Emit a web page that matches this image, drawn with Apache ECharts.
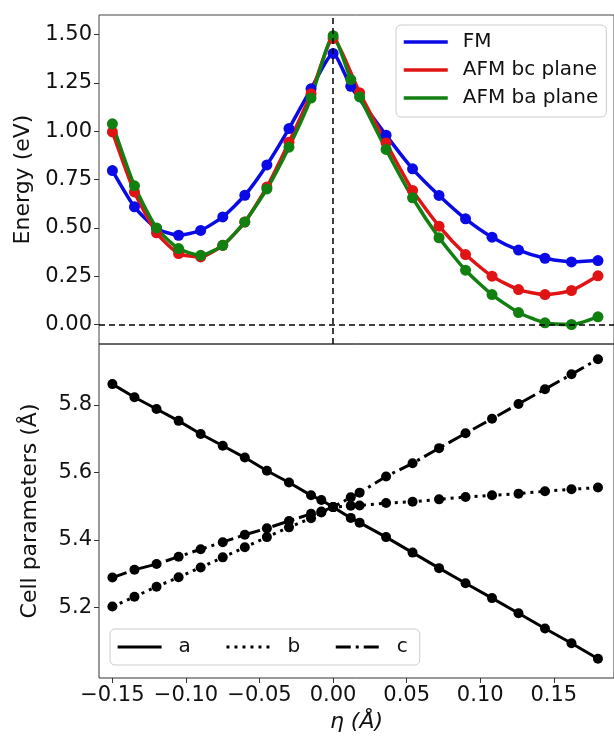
<!DOCTYPE html>
<html>
<head>
<meta charset="utf-8">
<script src="https://cdn.jsdelivr.net/npm/echarts@6/dist/echarts.min.js"></script>
<style>
  html, body { margin: 0; padding: 0; background: #fff; }
  #chart { width: 614px; height: 736px; }
</style>
</head>
<body>
<div id="chart"></div>
<script>
// eta values (Å) for the energy curves
var etaEnergy = [-0.15, -0.135, -0.12, -0.105, -0.09, -0.075, -0.06, -0.045, -0.03, -0.015, 0,
  0.012, 0.018, 0.036, 0.054, 0.072, 0.09, 0.108, 0.126, 0.144, 0.162, 0.18];
var fmEnergy = [0.797, 0.609, 0.497, 0.462, 0.487, 0.557, 0.669, 0.826, 1.014, 1.220, 1.403,
  1.233, null, 0.980, 0.806, 0.668, 0.547, 0.452, 0.385, 0.343, 0.324, 0.331];
var bcEnergy = [0.997, 0.686, 0.475, 0.367, 0.350, 0.410, 0.530, 0.712, 0.944, 1.195, 1.480,
  null, 1.200, 0.940, 0.694, 0.509, 0.362, 0.250, 0.181, 0.155, 0.176, 0.252];
var baEnergy = [1.039, 0.718, 0.500, 0.393, 0.358, 0.410, 0.531, 0.702, 0.918, 1.172, 1.495,
  1.268, 1.178, 0.906, 0.656, 0.449, 0.281, 0.155, 0.062, 0.009, 0.000, 0.040];

// eta values for the cell parameters
var etaCell = [-0.15, -0.135, -0.12, -0.105, -0.09, -0.075, -0.06, -0.045, -0.03, -0.015, -0.008, 0,
  0.012, 0.018, 0.036, 0.054, 0.072, 0.09, 0.108, 0.126, 0.144, 0.162, 0.18];
var cellA = [5.862, 5.823, 5.788, 5.753, 5.714, 5.679, 5.644, 5.605, 5.570, 5.532, 5.518, 5.497,
  5.465, 5.451, 5.408, 5.362, 5.316, 5.271, 5.227, 5.182, 5.137, 5.093, 5.047];
var cellB = [5.202, 5.231, 5.261, 5.289, 5.318, 5.348, 5.378, 5.408, 5.437, 5.464, 5.481, 5.497,
  5.501, 5.502, 5.509, 5.513, 5.520, 5.527, 5.532, 5.537, 5.544, 5.550, 5.555];
var cellC = [5.288, 5.311, 5.328, 5.350, 5.372, 5.393, 5.415, 5.434, 5.456, 5.477, 5.484, 5.497,
  5.526, 5.540, 5.588, 5.627, 5.672, 5.716, 5.759, 5.803, 5.847, 5.891, 5.936];

var xTicks = [-0.15, -0.10, -0.05, 0, 0.05, 0.10, 0.15];
var energyTicks = [0, 0.25, 0.5, 0.75, 1.0, 1.25, 1.5];
var cellTicks = [5.2, 5.4, 5.6, 5.8];

function pairs(xs, ys) {
  var out = [];
  for (var i = 0; i < xs.length; i++) {
    if (ys[i] !== null) out.push([xs[i], ys[i]]);
  }
  return out;
}
function fmtX(v) {
  return v < -1e-9 ? '\u2212' + (-v).toFixed(2) : Math.abs(v).toFixed(2);
}

var tickFont = { fontFamily: 'DejaVu Sans', fontSize: 21, color: '#111' };
var nameFont = { fontFamily: 'DejaVu Sans', fontSize: 22, color: '#111' };

var chart = echarts.init(document.getElementById('chart'));
var option = {
  animation: false,
  backgroundColor: '#fff',
  grid: [
    { left: 99, top: 15, right: -3, height: 329, show: true, borderColor: '#444', borderWidth: 1 },
    { left: 99, top: 344, right: -3, height: 334, show: true, borderColor: '#333', borderWidth: 1 }
  ],
  xAxis: [
    {
      type: 'value', gridIndex: 0, min: -0.1591, max: 0.1909,
      axisLine: { show: false, onZero: false }, axisTick: { show: false }, axisLabel: { show: false },
      splitLine: { show: false }
    },
    {
      type: 'value', gridIndex: 1, min: -0.1591, max: 0.1909,
      axisLine: { show: false, onZero: false },
      axisTick: { show: true, length: 5, customValues: xTicks, lineStyle: { color: '#333' } },
      axisLabel: { customValues: xTicks, formatter: fmtX, margin: 7, fontFamily: tickFont.fontFamily, fontSize: tickFont.fontSize, color: tickFont.color },
      splitLine: { show: false },
      name: '\u03b7 (\u00c5)', nameLocation: 'middle', nameGap: 33,
      nameTextStyle: { fontFamily: 'DejaVu Sans', fontSize: 22, fontStyle: 'italic', color: '#111' }
    }
  ],
  yAxis: [
    {
      type: 'value', gridIndex: 0, min: -0.1009, max: 1.602,
      axisLine: { show: false, onZero: false },
      axisTick: { show: true, length: 5, customValues: energyTicks, lineStyle: { color: '#333' } },
      axisLabel: { customValues: energyTicks, formatter: function (v) { return v.toFixed(2); }, margin: 7, fontFamily: tickFont.fontFamily, fontSize: tickFont.fontSize, color: tickFont.color },
      splitLine: { show: false },
      name: 'Energy (eV)', nameLocation: 'middle', nameGap: 58,
      nameTextStyle: nameFont
    },
    {
      type: 'value', gridIndex: 1, min: 4.990, max: 5.981,
      axisLine: { show: false, onZero: false },
      axisTick: { show: true, length: 5, customValues: cellTicks, lineStyle: { color: '#333' } },
      axisLabel: { customValues: cellTicks, formatter: function (v) { return v.toFixed(1); }, margin: 7, fontFamily: tickFont.fontFamily, fontSize: tickFont.fontSize, color: tickFont.color },
      splitLine: { show: false },
      name: 'Cell parameters (\u00c5)', nameLocation: 'middle', nameGap: 58,
      nameTextStyle: nameFont
    }
  ],
  legend: [
    {
      data: ['FM', 'AFM bc plane', 'AFM ba plane'],
      orient: 'vertical', left: 396, top: 25,
      itemWidth: 44, itemHeight: 14, itemGap: 8,
      padding: [7, 8, 9, 6],
      backgroundColor: 'rgba(255,255,255,0.85)', borderColor: '#ccc', borderWidth: 1, borderRadius: 5,
      itemStyle: { opacity: 0 },
      lineStyle: { width: 3.5 },
      textStyle: { fontFamily: 'DejaVu Sans', fontSize: 20, color: '#111', padding: [0, 0, 0, 10] }
    },
    {
      data: ['a', 'b', 'c'],
      orient: 'horizontal', left: 110, top: 629,
      itemWidth: 44, itemHeight: 14, itemGap: 34,
      padding: [8, 12, 8, 6],
      backgroundColor: 'rgba(255,255,255,0.85)', borderColor: '#ccc', borderWidth: 1, borderRadius: 5,
      itemStyle: { opacity: 0 },
      lineStyle: { width: 3.2 },
      textStyle: { fontFamily: 'DejaVu Sans', fontSize: 20, color: '#111', padding: [0, 0, 0, 12] }
    }
  ],
  series: [
    {
      name: 'FM', type: 'line', xAxisIndex: 0, yAxisIndex: 0,
      data: pairs(etaEnergy, fmEnergy), smooth: 0.2,
      symbol: 'circle', symbolSize: 11,
      lineStyle: { color: '#0a0ae6', width: 3.5 }, itemStyle: { color: '#0a0ae6' },
      markLine: {
        silent: true, symbol: 'none', label: { show: false },
        lineStyle: { color: '#000', type: [6, 4], width: 1.5 },
        data: [{ xAxis: 0 }, { yAxis: 0 }]
      }
    },
    {
      name: 'AFM bc plane', type: 'line', xAxisIndex: 0, yAxisIndex: 0,
      data: pairs(etaEnergy, bcEnergy), smooth: 0.2,
      symbol: 'circle', symbolSize: 11,
      lineStyle: { color: '#e01414', width: 3.5 }, itemStyle: { color: '#e01414' }
    },
    {
      name: 'AFM ba plane', type: 'line', xAxisIndex: 0, yAxisIndex: 0,
      data: pairs(etaEnergy, baEnergy), smooth: 0.2,
      symbol: 'circle', symbolSize: 11,
      lineStyle: { color: '#118011', width: 3.5 }, itemStyle: { color: '#118011' }
    },
    {
      name: 'a', type: 'line', xAxisIndex: 1, yAxisIndex: 1,
      data: pairs(etaCell, cellA),
      symbol: 'circle', symbolSize: 10,
      lineStyle: { color: '#000', width: 3 }, itemStyle: { color: '#000' }
    },
    {
      name: 'b', type: 'line', xAxisIndex: 1, yAxisIndex: 1,
      data: pairs(etaCell, cellB),
      symbol: 'circle', symbolSize: 10,
      lineStyle: { color: '#000', width: 3, type: [3, 5] }, itemStyle: { color: '#000' }
    },
    {
      name: 'c', type: 'line', xAxisIndex: 1, yAxisIndex: 1,
      data: pairs(etaCell, cellC),
      symbol: 'circle', symbolSize: 10,
      lineStyle: { color: '#000', width: 3, type: [15, 5, 3, 5] }, itemStyle: { color: '#000' }
    }
  ]
};
chart.setOption(option);
</script>
</body>
</html>
